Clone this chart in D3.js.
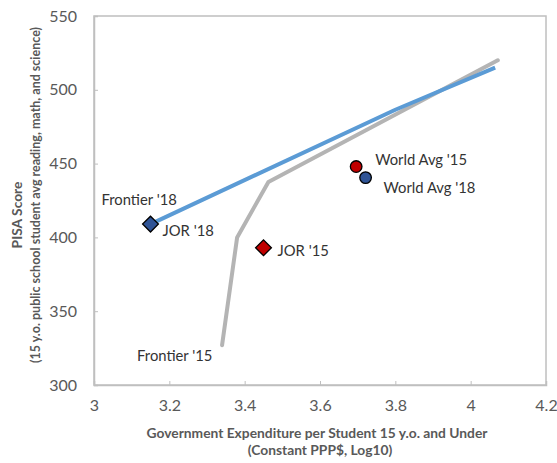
<!DOCTYPE html>
<html><head><meta charset="utf-8">
<script src="https://cdn.jsdelivr.net/npm/d3@7"></script>
<style>body{margin:0;background:#fff}svg{display:block}text{font-family:Lato,"Open Sans",sans-serif}</style>
</head><body><svg id="c" width="557" height="463"></svg>
<script>
const frontier18 = [[3.15,409],[3.8,486.5],[4.065,515]];
const frontier15 = [[3.34,327],[3.38,400],[3.463,437.5],[4.072,520]];
const points = [
  {name:"JOR '18", x:3.15, y:409, shape:"diamond", color:"#2f5496"},
  {name:"JOR '15", x:3.45, y:393, shape:"diamond", color:"#c00000"},
  {name:"World Avg '15", x:3.696, y:448, shape:"circle", color:"#c00000"},
  {name:"World Avg '18", x:3.721, y:440.5, shape:"circle", color:"#2f5496"}
];
const labels = [
  {text:"Frontier '18", x:3.15, y:409, dx:-49, dy:-19},
  {text:"JOR '18", x:3.15, y:409, dx:12, dy:12},
  {text:"JOR '15", x:3.45, y:393, dx:14, dy:8},
  {text:"World Avg '15", x:3.696, y:448, dx:19, dy:-2},
  {text:"World Avg '18", x:3.721, y:440.5, dx:18, dy:15.5},
  {text:"Frontier '15", x:3.34, y:327, dx:-85, dy:15.5}
];
const xTicks = [3,3.2,3.4,3.6,3.8,4,4.2];
const yTicks = [300,350,400,450,500,550];

const svg = d3.select("#c");
const m = {l:94, t:16, r:546, b:385};
const x = d3.scaleLinear().domain([3,4.2]).range([m.l,m.r]);
const y = d3.scaleLinear().domain([300,550]).range([m.b,m.t]);
const axisCol = "#bfbfbf", txtCol = "#595959";

svg.append("rect").attr("x",m.l).attr("y",m.t).attr("width",m.r-m.l).attr("height",m.b-m.t)
  .attr("fill","none").attr("stroke",axisCol).attr("stroke-width",1.5);

const xa = svg.append("g").attr("transform",`translate(0,${m.b})`)
  .call(d3.axisBottom(x).tickValues(xTicks).tickSize(-4).tickPadding(10).tickFormat(d3.format("~g")));
const ya = svg.append("g").attr("transform",`translate(${m.l},0)`)
  .call(d3.axisLeft(y).tickValues(yTicks).tickSize(-4).tickPadding(17).tickFormat(d3.format("d")));
[xa,ya].forEach(a=>{
  a.select(".domain").attr("stroke",axisCol).attr("stroke-width",1.5);
  a.selectAll(".tick line").attr("stroke",axisCol).attr("stroke-width",1);
  a.selectAll(".tick text").attr("fill",txtCol).attr("font-size",16).attr("font-family","Lato, sans-serif");
});
xa.selectAll(".tick text").attr("dy","1em");

const line = d3.line().x(d=>x(d[0])).y(d=>y(d[1]));
svg.append("path").datum(frontier15).attr("d",line).attr("fill","none")
  .attr("stroke","#b4b4b4").attr("stroke-width",4).attr("stroke-linejoin","round").attr("stroke-linecap","round");
svg.append("path").datum(frontier18).attr("d",line).attr("fill","none")
  .attr("stroke","#5b9bd5").attr("stroke-width",4).attr("stroke-linejoin","round");

points.forEach(p=>{
  const g = svg.append("g").attr("transform",`translate(${x(p.x)},${y(p.y)})`);
  if(p.shape==="diamond"){
    g.append("path").attr("d",d3.symbol(d3.symbolSquare,125)())
      .attr("transform","rotate(45)").attr("fill",p.color).attr("stroke","#000").attr("stroke-width",1.3);
  } else {
    g.append("circle").attr("r",5.8).attr("fill",p.color).attr("stroke","#000").attr("stroke-width",1.3);
  }
});

labels.forEach(l=>{
  svg.append("text").attr("x",x(l.x)+l.dx).attr("y",y(l.y)+l.dy).text(l.text)
    .attr("fill","#333").attr("font-size",14.8);
});

svg.append("text").attr("x",(m.l+m.r)/2-3).attr("y",438).attr("text-anchor","middle")
  .attr("font-weight","bold").attr("font-size",13.8).attr("fill",txtCol)
  .text("Government Expenditure per Student 15 y.o. and Under");
svg.append("text").attr("x",(m.l+m.r)/2).attr("y",455).attr("text-anchor","middle")
  .attr("font-weight","bold").attr("font-size",13.8).attr("fill",txtCol)
  .text("(Constant PPP$, Log10)");
const yt = svg.append("g").attr("transform","translate(22,200) rotate(-90)");
yt.append("text").attr("x",-15).attr("y",0).attr("text-anchor","middle")
  .attr("font-weight","bold").attr("font-size",13.8).attr("fill",txtCol).text("PISA Score");
yt.append("text").attr("x",5).attr("y",18).attr("text-anchor","middle")
  .attr("font-weight","bold").attr("font-size",12.5).attr("fill",txtCol)
  .text("(15 y.o. public school student avg reading, math, and science)");
</script></body></html>
